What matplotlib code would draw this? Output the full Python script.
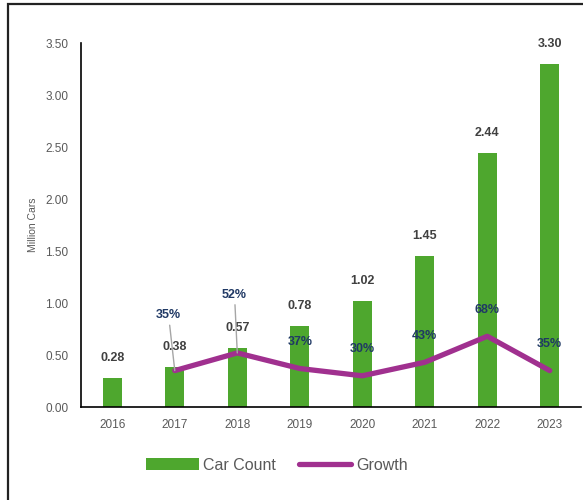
import matplotlib.pyplot as plt
from matplotlib.patches import Rectangle

years = ['2016', '2017', '2018', '2019', '2020', '2021', '2022', '2023']
car_count = [0.28, 0.38, 0.57, 0.78, 1.02, 1.45, 2.44, 3.30]
growth = [None, 0.35, 0.52, 0.37, 0.30, 0.43, 0.68, 0.35]
growth_labels = ['', '35%', '52%', '37%', '30%', '43%', '68%', '35%']

plt.rcParams['font.family'] = ['Liberation Sans', 'DejaVu Sans']

fig = plt.figure(figsize=(5.83, 5.0), dpi=100)
ax = fig.add_axes([0.139, 0.186, 0.8576, 0.728])

x = list(range(len(years)))
bars = ax.bar(x, car_count, width=0.3, color='#4EA72E', label='Car Count', zorder=2)

gx = [i for i, g in zip(x, growth) if g is not None]
gy = [g for g in growth if g is not None]
ax.plot(gx, gy, color='#A0308F', lw=3.8, solid_capstyle='round',
        solid_joinstyle='round', label='Growth', zorder=3)

# bar value labels
for i, v in zip(x, car_count):
    ax.annotate('{:.2f}'.format(v), (i, v), xytext=(0, 14.5), textcoords='offset points',
                ha='center', va='center', fontsize=9, fontweight='bold', color='#404040', zorder=4)

# growth labels, first two pulled up with leader lines
for i, g, lab in zip(x, growth, growth_labels):
    if g is None:
        continue
    if i == 1:
        ax.annotate(lab, (i, g), xytext=(-4.5, 40), textcoords='offset points',
                    ha='center', va='center', fontsize=9, fontweight='bold', color='#1F3864',
                    arrowprops=dict(arrowstyle='-', color='#A6A6A6', lw=1, shrinkA=1, shrinkB=0), zorder=4)
    elif i == 2:
        ax.annotate(lab, (i, g), xytext=(-2, 42), textcoords='offset points',
                    ha='center', va='center', fontsize=9, fontweight='bold', color='#1F3864',
                    arrowprops=dict(arrowstyle='-', color='#A6A6A6', lw=1, shrinkA=1, shrinkB=0), zorder=4)
    else:
        ax.annotate(lab, (i, g), xytext=(0, 19), textcoords='offset points',
                    ha='center', va='center', fontsize=9, fontweight='bold', color='#1F3864', zorder=4)

ax.set_xlim(-0.5, 7.5)
ax.set_ylim(0, 3.5)
ax.set_yticks([0, 0.5, 1.0, 1.5, 2.0, 2.5, 3.0, 3.5])
ax.set_yticklabels(['{:.2f}'.format(t) for t in ax.get_yticks()])
ax.set_xticks(x)
ax.set_xticklabels(years)
ax.tick_params(axis='both', length=0, labelsize=8.5, labelcolor='#595959')
ax.tick_params(axis='y', pad=9)
ax.tick_params(axis='x', pad=9)
ax.set_ylabel('Million Cars', fontsize=7.5, color='#595959', labelpad=5)

for side in ['top', 'right']:
    ax.spines[side].set_visible(False)
ax.spines['left'].set_color('#000000')
ax.spines['bottom'].set_color('#000000')
ax.spines['left'].set_linewidth(1.2)
ax.spines['bottom'].set_linewidth(1.2)

leg = fig.legend(handles=[bars, ax.lines[0]], labels=['Car Count', 'Growth'],
                 loc='center', bbox_to_anchor=(0.475, 0.07), ncol=2, frameon=False,
                 fontsize=11.5, handlelength=3.3, handletextpad=0.3, columnspacing=1.4)
for t in leg.get_texts():
    t.set_color('#595959')

# outer frame of the chart area
fig.patches.append(Rectangle((8 / 583, -0.02), 1.1, 1.012, transform=fig.transFigure,
                             fill=False, edgecolor='#222222', lw=1.6, zorder=10))

fig.savefig('out.png', dpi=100, facecolor='white')
